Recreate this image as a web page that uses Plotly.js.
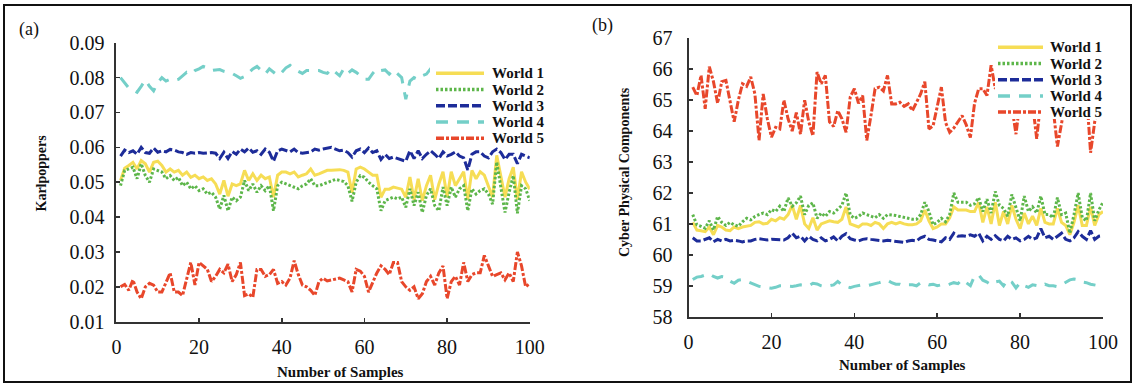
<!DOCTYPE html>
<html>
<head>
<meta charset="utf-8">
<script src="https://cdn.plot.ly/plotly-3.0.1.min.js"></script>
<style>html,body{margin:0;padding:0;background:#fff;}#chart{width:1135px;height:385px;}</style>
</head>
<body>
<div id="chart"></div>
<script>
// ---------- DATA ----------
const samples = [1,2,3,4,5,6,7,8,9,10,11,12,13,14,15,16,17,18,19,20,21,22,23,24,25,26,27,28,29,30,31,32,33,34,35,36,37,38,39,40,41,42,43,44,45,46,47,48,49,50,51,52,53,54,55,56,57,58,59,60,61,62,63,64,65,66,67,68,69,70,71,72,73,74,75,76,77,78,79,80,81,82,83,84,85,86,87,88,89,90,91,92,93,94,95,96,97,98,99,100];
const worldNames = ["World 1","World 2","World 3","World 4","World 5"];
const xTickVals = [0,20,40,60,80,100];
const panelLabels = ["(a)","(b)"];
const yTitles = ["Karlpoppers","Cyber Physical Components"];
const xTitle = "Number of Samples";

// (a) Karlpoppers
const kW1 = [0.0505,0.054,0.0548,0.0557,0.0538,0.0562,0.0553,0.0529,0.0557,0.056,0.0548,0.0529,0.0538,0.0529,0.0534,0.052,0.0529,0.0514,0.052,0.051,0.0515,0.0505,0.051,0.0495,0.0466,0.0505,0.046,0.0495,0.049,0.0495,0.0534,0.0505,0.0524,0.0505,0.052,0.051,0.0515,0.0457,0.052,0.0529,0.0529,0.0524,0.0529,0.0515,0.052,0.0524,0.0538,0.052,0.0524,0.0529,0.0534,0.0534,0.0536,0.0536,0.0534,0.0529,0.047,0.0538,0.0543,0.0538,0.0529,0.052,0.052,0.0457,0.048,0.048,0.0486,0.0482,0.048,0.0457,0.0515,0.045,0.051,0.0447,0.049,0.052,0.045,0.0495,0.053,0.0457,0.053,0.049,0.051,0.053,0.045,0.0534,0.051,0.053,0.052,0.049,0.0457,0.0577,0.0515,0.0457,0.051,0.0543,0.045,0.053,0.050,0.048];
const kW2 = [0.049,0.0534,0.0538,0.0543,0.051,0.0553,0.0519,0.050,0.0538,0.0534,0.0529,0.051,0.0519,0.0505,0.0514,0.049,0.050,0.0481,0.049,0.0476,0.0481,0.0466,0.0471,0.0457,0.0423,0.0462,0.0418,0.0457,0.0447,0.0457,0.0505,0.0476,0.0495,0.0471,0.049,0.0476,0.049,0.0418,0.049,0.050,0.0495,0.049,0.0486,0.0481,0.049,0.0495,0.051,0.049,0.049,0.0495,0.050,0.0505,0.0508,0.0505,0.0502,0.049,0.0445,0.050,0.0519,0.0514,0.050,0.049,0.0481,0.0418,0.0447,0.0452,0.0457,0.0452,0.0457,0.0428,0.0481,0.0433,0.0471,0.0413,0.0462,0.0481,0.0433,0.0418,0.0486,0.0433,0.0486,0.0457,0.0481,0.049,0.0418,0.0481,0.0466,0.0476,0.0481,0.0466,0.0437,0.0558,0.0486,0.0413,0.0471,0.0519,0.0411,0.049,0.0481,0.0447];
const kW3 = [0.0575,0.0592,0.0585,0.059,0.058,0.060,0.0585,0.0583,0.0598,0.0586,0.059,0.0587,0.0594,0.0592,0.0587,0.0585,0.058,0.0585,0.0583,0.0585,0.0583,0.0585,0.0585,0.0583,0.0568,0.0586,0.0568,0.0588,0.058,0.0595,0.0587,0.0598,0.0586,0.059,0.058,0.0595,0.0586,0.056,0.059,0.0595,0.059,0.0587,0.0595,0.0585,0.0583,0.0585,0.0587,0.0595,0.0592,0.0595,0.0598,0.060,0.0595,0.059,0.0592,0.0585,0.0572,0.059,0.0595,0.0585,0.0598,0.0585,0.059,0.0565,0.058,0.0568,0.0572,0.0568,0.0565,0.056,0.059,0.0568,0.059,0.0568,0.058,0.059,0.058,0.0568,0.0587,0.0575,0.058,0.0587,0.0575,0.057,0.0535,0.058,0.0587,0.0587,0.0575,0.057,0.0587,0.0595,0.0585,0.0565,0.058,0.058,0.0553,0.058,0.0575,0.057];
const kW4 = [0.080,0.0785,0.077,0.0765,0.0758,0.0775,0.0793,0.0775,0.0762,0.0785,0.080,0.079,0.0795,0.0792,0.0795,0.0805,0.0815,0.081,0.082,0.0825,0.0832,0.0828,0.082,0.0822,0.0823,0.0818,0.0816,0.0812,0.0805,0.0798,0.0803,0.0815,0.0825,0.0832,0.0822,0.081,0.0825,0.0815,0.0806,0.0815,0.0828,0.0835,0.0825,0.0818,0.0812,0.082,0.082,0.0818,0.082,0.0815,0.0812,0.0825,0.0815,0.0805,0.0825,0.0812,0.0822,0.0815,0.0805,0.0795,0.0795,0.0812,0.0825,0.082,0.0822,0.081,0.0822,0.0812,0.080,0.0738,0.079,0.080,0.0795,0.0805,0.081,0.0825,0.0812,0.081,0.0805,0.0812,0.0808,0.0815,0.081,0.0805,0.0812,0.0815,0.081,0.0808,0.0812,0.0815,0.081,0.0805,0.0812,0.081,0.0815,0.0808,0.081,0.0812,0.0808,0.081];
const kW5 = [0.020,0.0207,0.019,0.022,0.0185,0.0166,0.020,0.021,0.0205,0.0185,0.0185,0.0215,0.024,0.0185,0.0185,0.0175,0.022,0.027,0.0205,0.027,0.026,0.025,0.0215,0.023,0.025,0.024,0.0265,0.0215,0.0235,0.027,0.0175,0.018,0.017,0.025,0.025,0.023,0.0235,0.025,0.021,0.0215,0.0205,0.0225,0.0275,0.0235,0.0205,0.020,0.019,0.0175,0.0215,0.0225,0.0217,0.022,0.0222,0.0225,0.022,0.0215,0.0185,0.025,0.0245,0.023,0.0185,0.0215,0.024,0.026,0.025,0.0235,0.027,0.027,0.0215,0.020,0.019,0.020,0.0166,0.018,0.0215,0.023,0.0205,0.024,0.026,0.0166,0.0215,0.023,0.0205,0.027,0.0215,0.0235,0.024,0.024,0.029,0.026,0.023,0.0235,0.024,0.022,0.024,0.0215,0.030,0.026,0.020,0.021];

// (b) Cyber Physical Components
const cW1 = [61.05,60.8,60.78,60.75,60.9,60.65,60.95,60.9,60.8,60.78,60.9,60.85,60.9,60.92,60.95,61.05,61.07,61.0,61.02,61.15,61.1,61.2,61.15,61.3,61.6,61.15,61.6,61.0,60.85,61.2,60.8,61.0,61.05,61.1,61.07,61.05,61.15,61.55,61.0,60.95,60.9,61.0,61.0,60.95,61.05,61.0,60.85,61.0,61.05,61.0,61.05,61.0,60.97,60.97,61.0,61.1,61.45,61.1,60.85,60.9,61.0,61.0,61.2,61.55,61.45,61.45,61.45,61.4,61.4,61.7,61.05,61.55,61.0,61.7,60.95,61.4,61.0,61.6,61.15,60.85,61.35,61.0,61.25,60.95,61.5,61.05,61.0,61.0,61.5,61.05,60.95,60.65,61.05,61.6,60.95,60.95,61.55,60.95,61.3,61.4];
const cW2 = [61.3,60.97,60.92,60.86,61.1,60.8,61.24,61.05,60.95,61.05,60.97,60.92,61.07,61.18,61.13,61.24,61.3,61.35,61.3,61.46,61.4,61.57,61.4,61.84,61.57,61.68,61.9,61.3,61.6,61.68,61.18,61.35,61.24,61.4,61.35,61.46,61.6,62.0,61.29,61.18,61.24,61.35,61.3,61.24,61.2,61.3,61.18,61.3,61.29,61.27,61.24,61.2,61.18,61.15,61.15,61.3,61.7,61.4,60.97,61.05,61.18,61.07,61.3,62.0,61.7,61.7,61.7,61.6,61.65,61.85,61.4,61.8,61.35,62.05,61.6,61.5,61.25,61.95,61.5,61.1,61.9,61.4,61.55,61.35,61.9,61.3,61.3,61.2,61.85,61.3,61.35,60.7,61.3,62.0,61.2,61.1,62.0,61.1,61.45,61.7];
const cW3 = [60.55,60.45,60.45,60.5,60.55,60.42,60.5,60.45,60.5,60.45,60.47,60.45,60.42,60.45,60.45,60.5,60.52,60.5,60.48,60.5,60.5,60.5,60.48,60.55,60.7,60.55,60.6,60.45,60.6,60.5,60.45,60.55,60.45,60.5,60.58,60.45,60.6,60.68,60.52,60.48,60.45,60.5,60.52,60.5,60.48,60.45,60.45,60.47,60.45,60.45,60.42,60.4,60.45,60.47,60.45,60.55,60.6,60.5,60.48,60.45,60.42,60.55,60.5,60.7,60.6,60.62,60.6,60.65,60.6,60.7,60.45,60.6,60.5,60.62,60.5,60.45,60.6,60.5,60.55,60.45,60.5,60.6,60.5,60.55,60.85,60.55,60.6,60.5,60.6,60.7,60.5,60.45,60.55,60.75,60.6,60.5,60.78,60.5,60.6,60.62];
const cW4 = [59.2,59.28,59.3,59.35,59.39,59.3,59.25,59.3,59.28,59.15,59.08,59.18,59.2,59.15,59.1,59.05,58.98,58.96,58.94,58.92,58.95,59.0,59.0,58.98,58.98,59.0,59.03,59.02,59.0,59.08,59.06,59.0,58.97,59.0,59.03,59.14,59.03,58.98,58.94,58.98,59.0,59.03,59.0,59.03,59.05,59.1,59.14,59.18,59.1,59.05,59.05,59.0,59.03,59.03,59.0,59.1,59.08,59.03,59.05,59.0,59.03,59.0,59.05,59.1,59.07,59.2,59.1,59.0,59.32,59.35,59.18,59.12,59.03,59.12,59.15,59.0,59.2,59.12,58.93,59.1,59.0,58.95,59.03,59.0,58.98,59.05,59.0,59.0,58.97,59.03,59.12,59.19,59.22,59.2,59.12,59.1,59.05,59.03,59.0,59.02];
const cW5 = [65.42,65.15,65.8,64.72,66.08,65.6,64.9,65.6,65.64,65.0,64.3,65.0,65.53,65.45,65.75,65.2,63.7,65.2,64.4,63.8,64.12,64.07,65.0,64.4,64.0,64.6,63.9,65.0,64.3,63.85,65.91,65.53,65.8,64.3,64.15,64.66,64.4,63.96,65.1,65.37,64.9,65.15,63.7,64.5,65.37,65.42,65.3,65.8,64.88,64.88,64.93,64.8,64.88,64.66,64.93,65.2,65.6,64.07,64.17,64.8,65.42,64.28,63.96,64.1,64.28,64.5,64.2,63.79,64.9,65.37,65.37,65.15,66.13,65.37,65.5,65.2,65.4,64.8,63.9,65.0,65.3,65.4,64.9,63.75,65.0,65.3,65.4,64.7,63.5,64.2,65.0,65.3,65.4,65.2,65.1,65.3,63.3,64.3,65.0,65.2];

// ---------- STYLE ----------
const W = 1135, H = 385;
const px = x => x / W;
const py = y => 1 - y / H;
const SERIF = "Liberation Serif, Times New Roman, serif";
const styles = [
  {color:"#F6DD55", dash:"solid", width:3},
  {color:"#5DB64A", dash:"2.5px,2px", width:3},
  {color:"#1D2C99", dash:"9px,3px", width:3},
  {color:"#74CFC8", dash:"12px,9px", width:3},
  {color:"#E8472B", dash:"8px,2px,3px,2px", width:3}
];

const panelA = [kW1,kW2,kW3,kW4,kW5];
const panelB = [cW1,cW2,cW3,cW4,cW5];
const traces = [];
panelA.forEach((ys,i)=>traces.push({x:samples,y:ys,type:"scatter",mode:"lines",name:worldNames[i],xaxis:"x",yaxis:"y",showlegend:false,line:{color:styles[i].color,dash:styles[i].dash,width:styles[i].width}}));
panelB.forEach((ys,i)=>traces.push({x:samples,y:ys,type:"scatter",mode:"lines",name:worldNames[i],xaxis:"x2",yaxis:"y2",showlegend:false,line:{color:styles[i].color,dash:styles[i].dash,width:styles[i].width}}));

const axisBase = {
  showline:true, linecolor:"#333", linewidth:2, showgrid:false, zeroline:false,
  ticks:"inside", ticklen:4, tickwidth:1.5, tickcolor:"#333",
  tickfont:{family:SERIF, size:20, color:"#111"}, fixedrange:true
};

const shapes = [];
const annotations = [];

// outer frame
shapes.push({type:"rect", xref:"paper", yref:"paper", x0:px(4), x1:px(1131), y0:py(382), y1:py(5), line:{color:"#111", width:2}, fillcolor:"rgba(0,0,0,0)"});

// legends (one per panel): white box, key lines, labels
const legendSpecs = [
  {box:[430,560,62,145], lx0:436, lx1:484, tx:490, rows:[73.3,89.5,105.8,122,138.3]},
  {box:[995,1115,37,119], lx0:998, lx1:1043, tx:1048, rows:[47.3,63.5,79.7,96,112]}
];
legendSpecs.forEach(spec=>{
  shapes.push({type:"rect", xref:"paper", yref:"paper", layer:"above", x0:px(spec.box[0]), x1:px(spec.box[1]), y0:py(spec.box[3]), y1:py(spec.box[2]), line:{width:0}, fillcolor:"#fff"});
  worldNames.forEach((nm,i)=>{
    shapes.push({type:"line", xref:"paper", yref:"paper", layer:"above", x0:px(spec.lx0), x1:px(spec.lx1), y0:py(spec.rows[i]), y1:py(spec.rows[i]), line:{color:styles[i].color, dash:styles[i].dash, width:3.5}});
    annotations.push({xref:"paper", yref:"paper", x:px(spec.tx), y:py(spec.rows[i]), xanchor:"left", yanchor:"middle", showarrow:false, text:"<b>"+nm+"</b>", font:{family:SERIF, size:15, color:"#111"}});
  });
});

// panel labels
annotations.push({xref:"paper", yref:"paper", x:px(29), y:py(29), xanchor:"center", yanchor:"middle", showarrow:false, text:panelLabels[0], font:{family:SERIF, size:18, color:"#111"}});
annotations.push({xref:"paper", yref:"paper", x:px(602), y:py(25), xanchor:"center", yanchor:"middle", showarrow:false, text:panelLabels[1], font:{family:SERIF, size:18, color:"#111"}});
// axis titles
annotations.push({xref:"paper", yref:"paper", x:px(40.5), y:py(173), xanchor:"center", yanchor:"middle", textangle:-90, showarrow:false, text:"<b>"+yTitles[0]+"</b>", font:{family:SERIF, size:14, color:"#111"}});
annotations.push({xref:"paper", yref:"paper", x:px(625), y:py(172), xanchor:"center", yanchor:"middle", textangle:-90, showarrow:false, text:"<b>"+yTitles[1]+"</b>", font:{family:SERIF, size:14, color:"#111"}});
annotations.push({xref:"paper", yref:"paper", x:px(340), y:py(372), xanchor:"center", yanchor:"middle", showarrow:false, text:"<b>"+xTitle+"</b>", font:{family:SERIF, size:15, color:"#111"}});
annotations.push({xref:"paper", yref:"paper", x:px(902), y:py(365), xanchor:"center", yanchor:"middle", showarrow:false, text:"<b>"+xTitle+"</b>", font:{family:SERIF, size:15, color:"#111"}});

const layout = {
  width:W, height:H,
  margin:{l:0,r:0,t:0,b:0},
  paper_bgcolor:"#fff", plot_bgcolor:"#fff",
  showlegend:false,
  xaxis:Object.assign({}, axisBase, {domain:[px(116.4), px(529.8)], range:[0,100], tickvals:xTickVals, anchor:"y", ticklabelstandoff:6}),
  yaxis:Object.assign({}, axisBase, {domain:[py(321.7), py(42.7)], range:[0.01,0.09], dtick:0.01, tick0:0.01, tickformat:".2f", anchor:"x", ticklabelstandoff:6}),
  xaxis2:Object.assign({}, axisBase, {domain:[px(688.6), px(1103)], range:[0,100], tickvals:xTickVals, anchor:"y2", ticklabelstandoff:6}),
  yaxis2:Object.assign({}, axisBase, {domain:[py(316.7), py(38.3)], range:[58,67], dtick:1, tick0:58, anchor:"x2", ticklabelstandoff:10}),
  shapes:shapes,
  annotations:annotations
};

Plotly.newPlot("chart", traces, layout, {staticPlot:true, displayModeBar:false});
</script>
</body>
</html>
